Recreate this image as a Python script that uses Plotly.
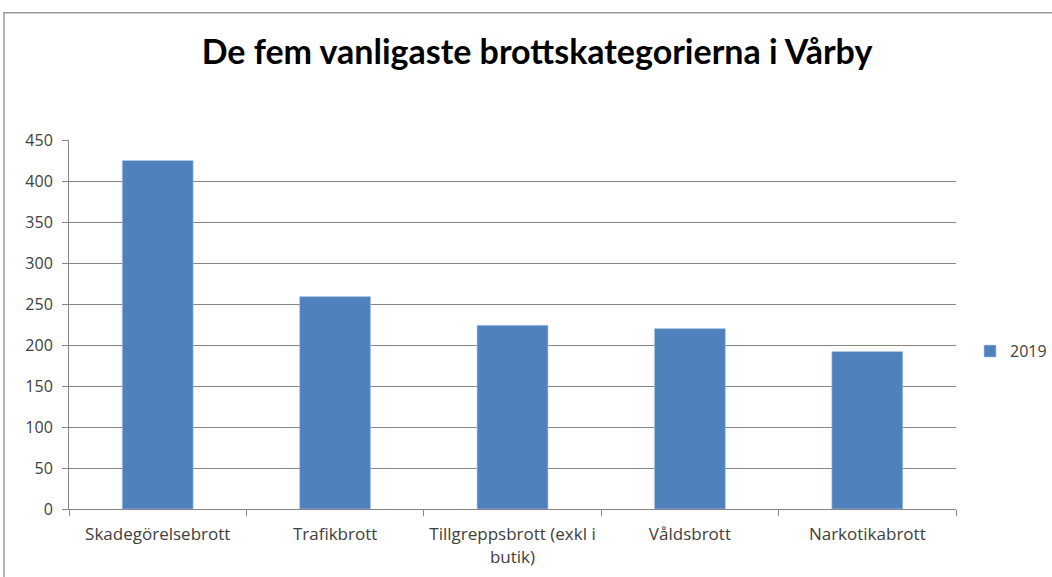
import plotly.graph_objects as go

categories = ["Skadegörelsebrott", "Trafikbrott", "Tillgreppsbrott (exkl i<br>butik)", "Våldsbrott", "Narkotikabrott"]
values_2019 = [425, 259, 224, 220, 192]
series_name = "2019"
title_text = "De fem vanligaste brottskategorierna i Vårby"
y_ticks = [0, 50, 100, 150, 200, 250, 300, 350, 400, 450]

W, H = 1052, 577
L, R, T, B = 69, 96, 139.5, 68
pw, ph = W - L - R, H - T - B

tick_font = "Open Sans, Noto Sans, sans-serif"
title_font = "Lato, Open Sans, sans-serif"

fig = go.Figure()
fig.add_trace(go.Bar(
    x=categories, y=values_2019, name=series_name,
    marker=dict(color="#4F81BD", line=dict(color="#B9CDE5", width=0.6)),
    width=0.4, showlegend=True,
))

fig.update_layout(
    width=W, height=H,
    margin=dict(l=L, r=R, t=T, b=B, autoexpand=False),
    paper_bgcolor="white", plot_bgcolor="white",
    font=dict(family=tick_font, size=16, color="#404040"),
    title=dict(text="<b>" + title_text + "</b>", x=537 / W, xref="container", xanchor="center",
               y=1 - 52 / H, yref="container", yanchor="middle",
               font=dict(size=34, color="black", family=title_font)),
    showlegend=True,
    legend=dict(x=(970 - L) / pw, y=(509 - 351) / ph, xanchor="left", yanchor="middle",
                font=dict(size=16, color="#404040", family=tick_font), bgcolor="rgba(0,0,0,0)",
                itemwidth=30),
    xaxis=dict(type="category", showline=True, linecolor="#868686", linewidth=1,
               ticks="outside", tickson="boundaries", ticklen=6, tickcolor="#868686",
               ticklabelstandoff=10,
               showgrid=False, tickfont=dict(size=17, color="#404040", family=tick_font)),
    yaxis=dict(range=[0, 450], tickvals=y_ticks, showline=True, linecolor="#868686", linewidth=1,
               ticks="outside", ticklen=6, tickcolor="#868686", ticklabelstandoff=6,
               showgrid=True, gridcolor="#868686", gridwidth=1, zeroline=False,
               tickfont=dict(size=16, color="#404040", family=tick_font)),
    bargap=0.6,
    shapes=[dict(type="rect", xref="paper", yref="paper",
                 x0=(4 - L) / pw, x1=(1070 - L) / pw,
                 y0=(509 - 600) / ph, y1=(509 - 12) / ph,
                 line=dict(color="#9A9A9A", width=1.5), layer="below")],
)

fig.write_html("out.html", config={"displayModeBar": False},
               post_script="document.body.style.margin='0';document.body.style.overflow='hidden';")
